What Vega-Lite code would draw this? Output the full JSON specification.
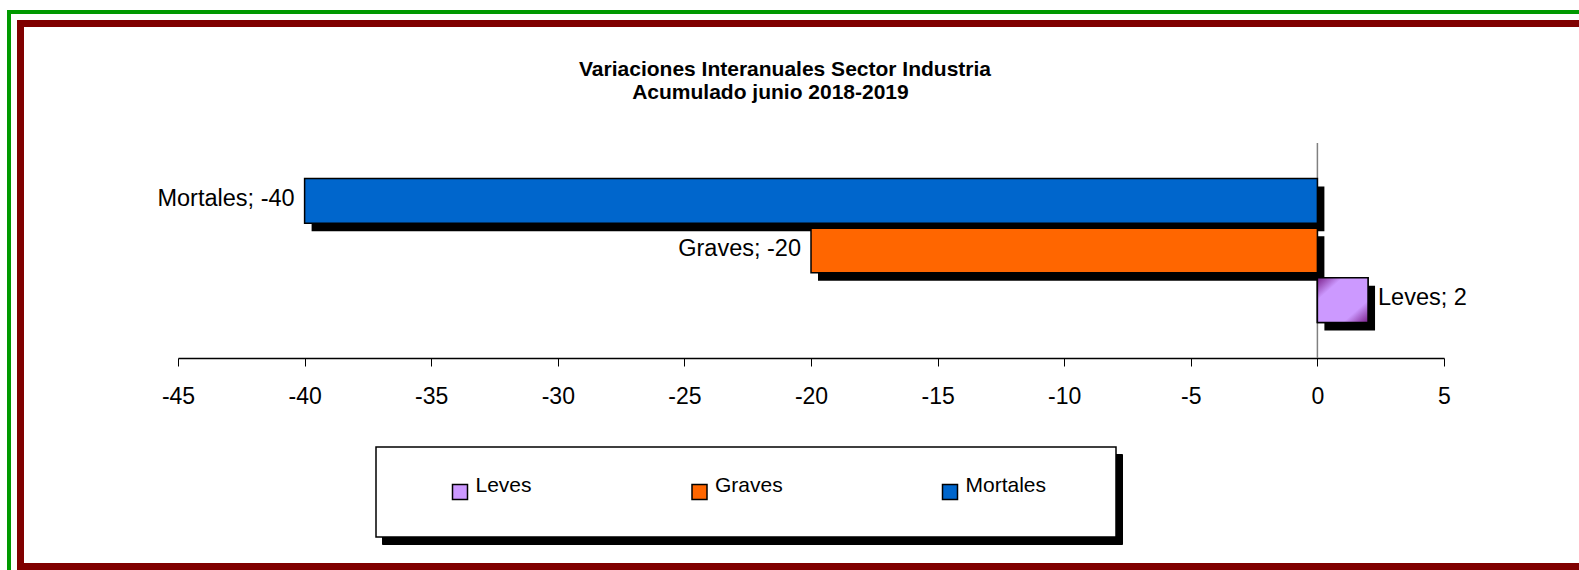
{
  "$schema": "https://vega.github.io/schema/vega-lite/v6.json",
  "width": 1266,
  "height": 215,
  "autosize": {"type": "none"},
  "padding": {"left": 178, "top": 143, "right": 135, "bottom": 212},
  "background": "white",
  "config": {
    "view": {"stroke": null},
    "font": "Liberation Sans"
  },
  "title": {
    "text": ["Variaciones Interanuales Sector Industria", "Acumulado junio 2018-2019\u00a0\u00a0\u00a0\u00a0\u00a0\u200b"],
    "fontSize": 21,
    "fontWeight": "bold",
    "font": "Liberation Sans",
    "color": "black",
    "anchor": "middle",
    "frame": "group",
    "baseline": "bottom",
    "lineHeight": 23.5,
    "dx": -26,
    "offset": -114
  },
  "data": {
    "values": [
      {"serie": "Mortales", "valor": -40, "etiqueta": "Mortales; -40"},
      {"serie": "Graves", "valor": -20, "etiqueta": "Graves; -20"},
      {"serie": "Leves", "valor": 2, "etiqueta": "Leves; 2"}
    ]
  },
  "layer": [
    {
      "data": {"values": [{"marco": "exterior"}]},
      "mark": {"type": "rect", "filled": false, "stroke": "#009900", "strokeWidth": 4, "xOffset": -169, "x2Offset": 170, "yOffset": -131, "y2Offset": 230},
      "encoding": {
        "x": {"value": 0}, "x2": {"value": "width"},
        "y": {"value": 0}, "y2": {"value": "height"}
      }
    },
    {
      "data": {"values": [{"marco": "interior"}]},
      "mark": {"type": "rect", "filled": false, "stroke": "#800000", "strokeWidth": 7, "xOffset": -157.5, "x2Offset": 160, "yOffset": -119.5, "y2Offset": 208.5},
      "encoding": {
        "x": {"value": 0}, "x2": {"value": "width"},
        "y": {"value": 0}, "y2": {"value": "height"}
      }
    },
    {
      "data": {"values": [{"eje": 0}]},
      "mark": {"type": "rule", "color": "#808080", "strokeWidth": 1.5},
      "encoding": {
        "x": {"field": "eje", "type": "quantitative", "title": null}
      }
    },
    {
      "mark": {"type": "bar", "xOffset": 7, "x2Offset": 7, "yOffset": 8},
      "encoding": {
        "x": {
          "field": "valor", "type": "quantitative", "title": null,
          "scale": {"domain": [-45, 5], "nice": false, "zero": false},
          "axis": {
            "values": [-45, -40, -35, -30, -25, -20, -15, -10, -5, 0, 5],
            "labelExpr": "toString(datum.value)",
            "grid": false, "domainColor": "black", "domainWidth": 1.5,
            "tickColor": "black", "tickWidth": 1, "tickSize": 8,
            "labelFontSize": 23, "labelFont": "Liberation Sans", "labelColor": "black",
            "labelPadding": 19, "labelFlush": false, "labelOverlap": false
          }
        },
        "y": {"field": "serie", "type": "nominal", "axis": null, "scale": {"domain": ["Mortales", "Graves", "Leves"], "paddingInner": 0.1, "paddingOuter": 0.713}},
        "fill": {
          "field": "etiqueta", "type": "nominal",
          "scale": {"domain": ["Leves; 2", "Graves; -20", "Mortales; -40"], "range": ["black", "black", "black"]},
          "legend": {
            "orient": "none", "legendX": 204, "legendY": 311, "direction": "horizontal", "columns": 3,
            "columnPadding": 277, "padding": 34.5, "strokeColor": "black", "fillColor": "black",
            "symbolType": "square", "symbolSize": 225, "labelFontSize": 21, "labelFont": "Liberation Sans",
            "labelColor": "black", "labelOffset": 5,
            "title": "\u00a0", "titleFontSize": 1, "titleOrient": "left", "titlePadding": 39,
            "labelExpr": "''",
            "zindex": 1
          }
        }
      }
    },
    {
      "mark": {"type": "bar", "stroke": "black", "strokeWidth": 1.5},
      "encoding": {
        "x": {"field": "valor", "type": "quantitative", "title": null},
        "y": {"field": "serie", "type": "nominal", "axis": null},
        "color": {
          "field": "serie", "type": "nominal",
          "scale": {"domain": ["Leves", "Graves", "Mortales"], "range": ["#CC99FF", "#FF6600", "#0066CC"]},
          "legend": {
            "orient": "none", "legendX": 198, "legendY": 304, "direction": "horizontal", "columns": 3,
            "columnPadding": 156.5, "padding": 34.5, "strokeColor": "black", "fillColor": "white",
            "symbolType": "square", "symbolSize": 225, "symbolStrokeColor": "black", "symbolStrokeWidth": 1.5,
            "symbolOpacity": 1, "labelFontSize": 21, "labelFont": "Liberation Sans",
            "labelColor": "black", "labelOffset": 5,
            "title": "\u00a0", "titleFontSize": 1, "titleOrient": "left", "titlePadding": 39,
            "labelExpr": "datum.label == 'Mortales' ? 'Mortales\u00a0\u00a0\u00a0\u00a0\u00a0\u00a0\u200b' : datum.label",
            "zindex": 2,
            "encode": {
              "legend": {"update": {"strokeWidth": {"value": 1.5}}},
              "symbols": {"update": {"stroke": {"value": "black"}, "strokeWidth": {"value": 1.5}}},
              "labels": {"update": {"dy": {"value": -6}}}
            }
          }
        }
      }
    },
    {
      "transform": [{"filter": "datum.serie == 'Leves'"}],
      "mark": {
        "type": "bar", "stroke": "black", "strokeWidth": 1.5,
        "fill": {
          "gradient": "linear", "x1": 0, "y1": 0, "x2": 1, "y2": 1,
          "stops": [
            {"offset": 0, "color": "#7A1F8A"},
            {"offset": 0.25, "color": "#CC99FF"},
            {"offset": 0.75, "color": "#CC99FF"},
            {"offset": 1, "color": "#7A1F8A"}
          ]
        }
      },
      "encoding": {
        "x": {"field": "valor", "type": "quantitative", "title": null},
        "y": {"field": "serie", "type": "nominal", "axis": null}
      }
    },
    {
      "transform": [{"filter": "datum.valor < 0"}],
      "mark": {"type": "text", "align": "right", "dx": -10, "dy": -2, "fontSize": 23.5, "font": "Liberation Sans", "color": "black"},
      "encoding": {
        "x": {"field": "valor", "type": "quantitative", "title": null},
        "y": {"field": "serie", "type": "nominal", "axis": null},
        "text": {"field": "etiqueta"}
      }
    },
    {
      "transform": [{"filter": "datum.valor > 0"}],
      "mark": {"type": "text", "align": "left", "dx": 10, "dy": -2, "fontSize": 23.5, "font": "Liberation Sans", "color": "black"},
      "encoding": {
        "x": {"field": "valor", "type": "quantitative", "title": null},
        "y": {"field": "serie", "type": "nominal", "axis": null},
        "text": {"field": "etiqueta"}
      }
    }
  ]
}
